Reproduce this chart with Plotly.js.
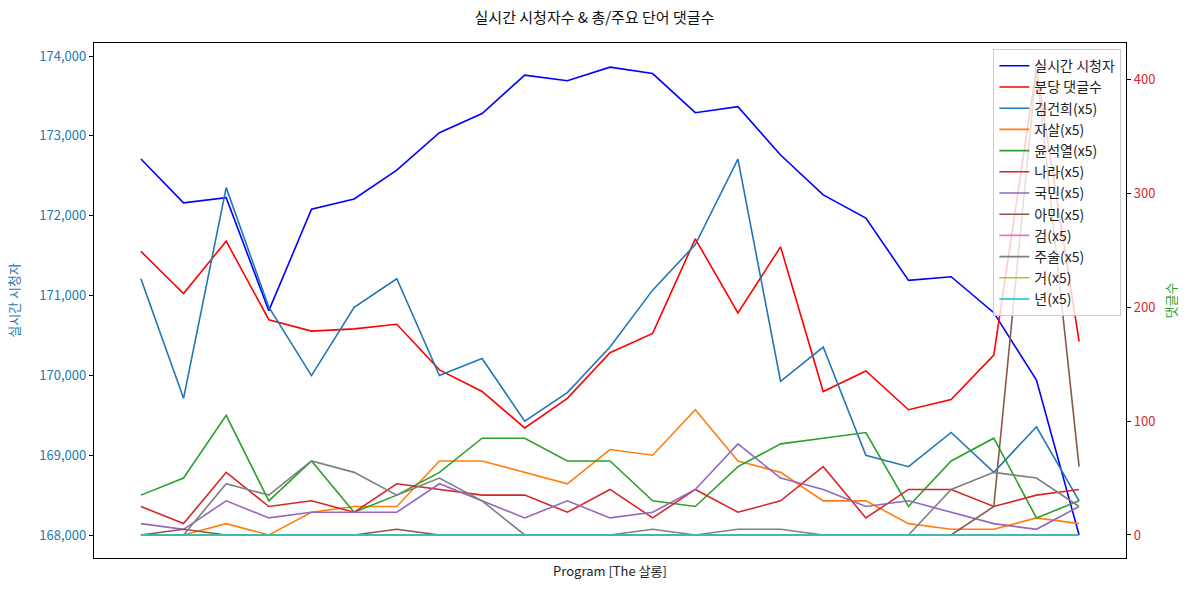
<!DOCTYPE html>
<html>
<head>
<meta charset="utf-8">
<script src="https://cdn.plot.ly/plotly-3.0.1.min.js"></script>
<style>html,body{margin:0;padding:0;background:#fff;}#chart{width:1189px;height:593px;}</style>
</head>
<body>
<div id="chart"></div>
<script>
// x positions (program time steps, no tick labels shown)
const steps = Array.from({length: 23}, (_, i) => i);

// left axis: realtime viewers
const viewers = [172710, 172160, 172225, 170810, 172080, 172210, 172570, 173040, 173280, 173760,
                 173690, 173860, 173780, 173290, 173365, 172760, 172260, 171970, 171190, 171235,
                 170785, 169940, 168000];

// right axis: comments per minute
const commentsPerMin = [249, 212, 258, 189, 179, 181, 185, 145, 126, 94,
                        120, 160, 177, 260, 195, 253, 126, 144, 110, 119,
                        158, 410, 170];

// keyword counts (x5)
const kimKeonHee = [225, 120, 305, 200, 140, 200, 225, 140, 155, 100, 125, 165, 215, 255, 330, 135, 165, 70, 60, 90, 55, 95, 30];
const suicide    = [0, 0, 10, 0, 20, 25, 25, 65, 65, 55, 45, 75, 70, 110, 65, 55, 30, 30, 10, 5, 5, 15, 10];
const yoonSY     = [35, 50, 105, 30, 65, 20, 35, 55, 85, 85, 65, 65, 30, 25, 60, 80, 85, 90, 25, 65, 85, 15, 30];
const nara       = [25, 10, 55, 25, 30, 20, 45, 40, 35, 35, 20, 40, 15, 40, 20, 30, 60, 15, 40, 40, 25, 35, 40];
const gukmin     = [10, 5, 30, 15, 20, 20, 20, 45, 30, 15, 30, 15, 20, 40, 80, 50, 40, 25, 30, 20, 10, 5, 25];
const amin       = [0, 5, 0, 0, 0, 0, 5, 0, 0, 0, 0, 0, 0, 0, 0, 0, 0, 0, 0, 0, 25, 410, 60];
const geom       = [0, 0, 0, 0, 0, 0, 0, 0, 0, 0, 0, 0, 0, 0, 0, 0, 0, 0, 0, 0, 0, 0, 0];
const jusul      = [0, 0, 45, 35, 65, 55, 35, 50, 30, 0, 0, 0, 5, 0, 5, 5, 0, 0, 0, 40, 55, 50, 25];
const geo        = [0, 0, 0, 0, 0, 0, 0, 0, 0, 0, 0, 0, 0, 0, 0, 0, 0, 0, 0, 0, 0, 0, 0];
const nyeon      = [0, 0, 0, 0, 0, 0, 0, 0, 0, 0, 0, 0, 0, 0, 0, 0, 0, 0, 0, 0, 0, 0, 0];

const seriesNames = ['실시간 시청자', '분당 댓글수', '김건희(x5)', '자살(x5)', '윤석열(x5)', '나라(x5)', '국민(x5)', '아민(x5)', '검(x5)', '주술(x5)', '거(x5)', '년(x5)'];
const seriesColors = ['#0000ff', '#ff0000', '#1f77b4', '#ff7f0e', '#2ca02c', '#d62728', '#9467bd', '#8c564b', '#e377c2', '#7f7f7f', '#bcbd22', '#17becf'];
const rightSeries = [commentsPerMin, kimKeonHee, suicide, yoonSY, nara, gukmin, amin, geom, jusul, geo, nyeon];

const traces = [{
  x: steps, y: viewers, type: 'scatter', mode: 'lines', name: seriesNames[0],
  line: {color: seriesColors[0], width: 1.6}, yaxis: 'y'
}];
rightSeries.forEach((ys, i) => {
  traces.push({
    x: steps, y: ys, type: 'scatter', mode: 'lines', name: seriesNames[i + 1],
    line: {color: seriesColors[i + 1], width: 1.6}, yaxis: 'y2'
  });
});

const font = '"Noto Sans CJK KR", "Noto Sans", sans-serif';
const layout = {
  width: 1189, height: 593,
  margin: {l: 94, r: 63, t: 43, b: 35},
  paper_bgcolor: '#fff', plot_bgcolor: '#fff',
  font: {family: font, size: 13, color: '#222'},
  showlegend: true,
  title: {text: '실시간 시청자수 & 총/주요 단어 댓글수', font: {size: 15, color: '#111'}, x: 0.5, xanchor: 'center', y: 0.97, yanchor: 'middle'},
  xaxis: {
    range: [-1.1, 23.1], showticklabels: false, ticks: '', showgrid: false, zeroline: false,
    showline: true, linecolor: '#000', linewidth: 1.2, mirror: true,
    title: {text: 'Program [The 살롱]', font: {size: 13, color: '#222'}, standoff: 8}
  },
  yaxis: {
    range: [167712, 174163], tickvals: [168000, 169000, 170000, 171000, 172000, 173000, 174000],
    ticktext: ['168,000', '169,000', '170,000', '171,000', '172,000', '173,000', '174,000'],
    ticks: 'outside', ticklen: 4, tickcolor: '#000', showgrid: false, zeroline: false,
    showline: true, linecolor: '#000', linewidth: 1.2,
    tickfont: {color: '#1f77b4', size: 13},
    title: {text: '실시간 시청자', font: {color: '#1f77b4', size: 13}, standoff: 16}
  },
  yaxis2: {
    overlaying: 'y', side: 'right', range: [-20.2, 432],
    tickvals: [0, 100, 200, 300, 400],
    ticks: 'outside', ticklen: 4, tickcolor: '#000', showgrid: false, zeroline: false,
    showline: true, linecolor: '#000', linewidth: 1.2,
    tickfont: {color: '#d62728', size: 13},
    title: {text: '댓글수', font: {color: '#2ca02c', size: 13}, standoff: 12}
  },
  legend: {
    x: 0.9955, xanchor: 'right', y: 0.988, yanchor: 'top',
    bgcolor: 'rgba(255,255,255,0.8)', bordercolor: '#cccccc', borderwidth: 1,
    font: {size: 14, color: '#222'}, tracegroupgap: 0, itemwidth: 30
  }
};

Plotly.newPlot('chart', traces, layout, {displayModeBar: false, staticPlot: true});
</script>
</body>
</html>
